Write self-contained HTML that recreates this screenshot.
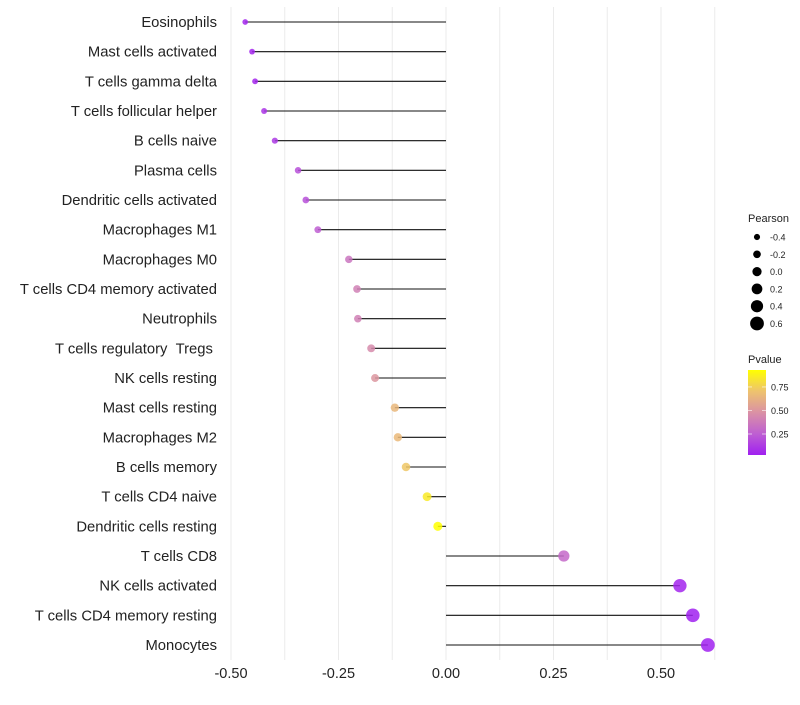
<!DOCTYPE html>
<html><head><meta charset="utf-8"><style>
body{margin:0;background:#fff;font-family:"Liberation Sans",sans-serif}
</style></head><body>
<svg id="c" width="800" height="700" xmlns="http://www.w3.org/2000/svg"></svg>
<script>
const categories=["Eosinophils","Mast cells activated","T cells gamma delta","T cells follicular helper","B cells naive","Plasma cells","Dendritic cells activated","Macrophages M1","Macrophages M0","T cells CD4 memory activated","Neutrophils","T cells regulatory\u00a0\u00a0Tregs\u00a0","NK cells resting","Mast cells resting","Macrophages M2","B cells memory","T cells CD4 naive","Dendritic cells resting","T cells CD8","NK cells activated","T cells CD4 memory resting","Monocytes"];
const pearson=[-0.467,-0.451,-0.444,-0.423,-0.398,-0.344,-0.326,-0.298,-0.226,-0.207,-0.205,-0.174,-0.165,-0.119,-0.112,-0.093,-0.044,-0.019,0.274,0.544,0.574,0.609];
const pvalue=[0.05,0.05,0.05,0.1,0.12,0.2,0.2,0.25,0.35,0.4,0.4,0.45,0.5,0.65,0.66,0.72,0.85,0.93,0.3,0.05,0.03,0.03];
const xTicks=[-0.5,-0.25,0,0.25,0.5];
const xTickLabels=["-0.50","-0.25","0.00","0.25","0.50"];
const sizeLegend=[-0.4,-0.2,0.0,0.2,0.4,0.6];
const sizeLegendLabels=["-0.4","-0.2","0.0","0.2","0.4","0.6"];
const pTicks=[0.25,0.5,0.75];
const pTickLabels=["0.25","0.50","0.75"];
const NS="http://www.w3.org/2000/svg";
const svg=document.getElementById('c');
function mk(t,a,p){const e=document.createElementNS(NS,t);for(const k in a)e.setAttribute(k,a[k]);(p||svg).appendChild(e);return e;}
const X=v=>446+v*430;
const Y=i=>22+i*(623/21);
const R=v=>4.6+3.8*v;
const pMin=0.027,pMax=0.93;
const stops=[[0,[160,32,240]],[0.25,[190,95,210]],[0.5,[218,145,165]],[0.75,[238,195,110]],[1,[255,255,0]]];
function col(p){let t=(p-pMin)/(pMax-pMin);t=Math.max(0,Math.min(1,t));for(let i=1;i<stops.length;i++){if(t<=stops[i][0]){const a=stops[i-1],b=stops[i];const f=(t-a[0])/(b[0]-a[0]);const c=a[1].map((v,k)=>Math.round(v+(b[1][k]-v)*f));return `rgb(${c})`;}}return 'rgb(255,255,0)';}
const gg=mk('g',{});


for(let v=-0.5;v<=0.626;v+=0.125){mk('line',{x1:X(v),x2:X(v),y1:7,y2:660,stroke:'#ebebeb','stroke-width':1},gg);}
xTicks.forEach((v,i)=>{const t=mk('text',{x:X(v),y:678,'text-anchor':'middle','font-size':14.5,fill:'#222'});t.textContent=xTickLabels[i];

});
categories.forEach((c,i)=>{
const t=mk('text',{x:217,y:Y(i)+5,'text-anchor':'end','font-size':14.8,fill:'#222'});t.textContent=c;


const l=mk('line',{x1:X(0),x2:X(pearson[i]),y1:Y(i),y2:Y(i),stroke:'#111','stroke-width':1.1});


const d=mk('circle',{cx:X(pearson[i]),cy:Y(i),r:R(pearson[i]),fill:col(pvalue[i]),'fill-opacity':0.85});


});
const lt=mk('text',{x:748,y:222,'font-size':11,fill:'#222'});lt.textContent='Pearson';


sizeLegend.forEach((v,i)=>{const y=237+i*17.3;
const c=mk('circle',{cx:757,cy:y,r:R(v),fill:'#000'});


const t=mk('text',{x:770,y:y+3.5,'font-size':9,fill:'#222'});t.textContent=sizeLegendLabels[i];

});
const pt=mk('text',{x:748,y:363,'font-size':11,fill:'#222'});pt.textContent='Pvalue';


const defs=mk('defs',{});const lg=mk('linearGradient',{id:'pg',x1:0,y1:1,x2:0,y2:0},defs);
stops.forEach(s=>mk('stop',{offset:s[0],'stop-color':`rgb(${s[1]})`},lg));
const bar=mk('rect',{x:748,y:370,width:18,height:85,fill:'url(#pg)'});


const PY=p=>455-(p-pMin)/(pMax-pMin)*85;
pTicks.forEach((p,i)=>{mk('line',{x1:748,x2:752,y1:PY(p),y2:PY(p),stroke:'#fff','stroke-opacity':0.6});mk('line',{x1:762,x2:766,y1:PY(p),y2:PY(p),stroke:'#fff','stroke-opacity':0.6});
const t=mk('text',{x:771,y:PY(p)+3.5,'font-size':9,fill:'#222'});t.textContent=pTickLabels[i];

});
</script>
</body></html>
